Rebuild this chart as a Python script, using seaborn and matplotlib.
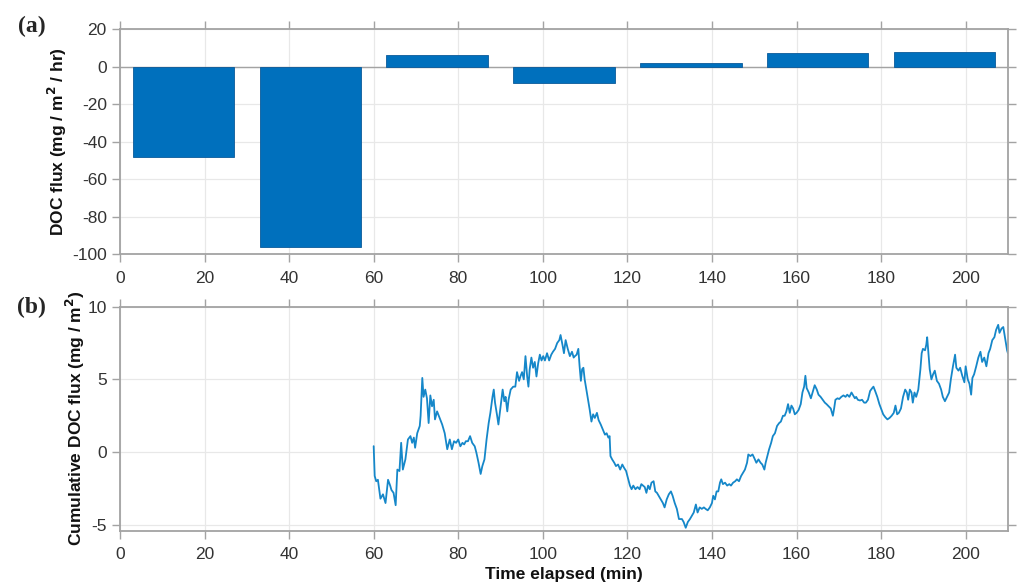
import matplotlib
matplotlib.use("Agg")
import matplotlib.pyplot as plt
import seaborn as sns

# (a) DOC flux per 30-min interval
bar_centers = [15, 45, 75, 105, 135, 165, 195]
doc_flux = [-48.0, -96.0, 6.2, -8.5, 2.1, 7.1, 7.7]

# (b) cumulative DOC flux from 60 min onward
time_min = [
    60.0, 60.24, 60.6, 61.0, 61.6, 62.2, 62.8, 63.4, 63.9, 64.2, 64.7, 65.2, 65.6, 66.1,
    66.5, 66.9, 67.5, 68.1, 68.7, 69.1, 69.5, 69.8, 70.3, 70.9, 71.1, 71.5, 71.8, 72.2,
    72.6, 73.0, 73.4, 73.8, 74.2, 74.5, 75.0, 75.6, 76.2, 76.8, 77.4, 78.0, 78.5, 79.0,
    79.5, 80.0, 80.5, 81.0, 81.4, 81.8, 82.3, 82.8, 83.3, 83.9,
    84.3, 84.8, 85.3, 85.7, 86.2, 86.7, 87.2, 87.6, 88.1, 88.4, 88.7, 89.2, 89.5, 90.0,
    90.5, 90.9, 91.2, 91.6, 91.9, 92.4, 93.0, 93.5, 93.9, 94.4, 94.7, 95.1, 95.5, 95.9,
    96.3, 96.6, 96.9, 97.3, 97.7, 98.1, 98.5, 98.9, 99.3, 99.7, 100.1, 100.5, 101.0,
    101.5, 102.0, 102.4, 102.9, 103.4, 103.9, 104.2, 104.7, 105.0, 105.4, 105.9, 106.4,
    106.9, 107.3,
    107.6, 108.0, 108.4, 108.7, 109.0, 109.3, 109.6, 109.9, 110.3, 110.7, 111.1, 111.5,
    111.9, 112.3, 112.8, 113.2, 113.7, 114.2, 114.7, 115.1, 115.5, 115.8, 116.0, 116.4,
    116.9, 117.3, 117.8, 118.3, 118.8, 119.2, 119.7, 120.2, 120.6, 121.0, 121.4, 121.9,
    122.4, 122.9, 123.3, 123.7, 124.1, 124.5, 124.9, 125.3, 125.7, 126.2, 126.6, 127.0,
    127.4, 127.9, 128.4, 128.8, 129.3, 129.8, 130.3, 130.7, 131.2, 131.7, 132.2,
    132.9, 133.3, 133.8, 134.3, 134.8, 135.2, 135.7, 136.2, 136.6, 137.1, 137.6, 138.1,
    138.5, 139.0, 139.5, 140.0, 140.3, 140.7, 141.1, 141.5, 141.9, 142.2, 142.6, 143.1,
    143.6, 144.1, 144.5, 145.0, 145.5, 145.9, 146.4, 146.9, 147.4, 147.8, 148.3, 148.6,
    149.1, 149.6, 150.0, 150.5, 151.0, 151.5, 151.9, 152.4, 152.7, 153.1, 153.5, 154.0,
    154.4, 154.9, 155.4, 155.9, 156.3, 156.8,
    157.2, 157.6, 158.0, 158.4, 158.8, 159.2, 159.6, 160.0, 160.5, 161.0, 161.4, 161.8,
    162.1, 162.4, 162.9, 163.4, 163.8, 164.3, 164.8, 165.2, 165.7, 166.2, 166.7, 167.1,
    167.6, 168.1, 168.6, 168.9, 169.2, 169.7, 170.1, 170.6, 171.1, 171.6, 172.0, 172.5,
    173.0, 173.4, 173.8, 174.1, 174.5, 175.0, 175.5, 176.0, 176.4, 176.9, 177.4, 177.9,
    178.2, 178.6, 179.1, 179.6, 180.1, 180.5, 181.0, 181.5,
    182.0, 182.5, 183.0, 183.4, 183.8, 184.2, 184.7, 185.2, 185.7, 186.1, 186.4, 186.8,
    187.2, 187.5, 187.9, 188.3, 188.8, 189.3, 189.6, 189.9, 190.4, 190.7, 190.9, 191.2,
    191.5, 191.9, 192.3, 192.7, 193.2, 193.7, 194.2, 194.6, 195.1, 195.6, 196.1, 196.5,
    197.0, 197.5, 197.8, 198.3, 198.7, 199.2, 199.7, 200.0, 200.5, 200.9, 201.3, 201.6,
    202.0, 202.5, 203.0, 203.5, 203.9, 204.4, 204.9, 205.4, 205.8, 206.3, 206.8, 207.2,
    207.7, 208.0, 208.5, 208.9, 209.4, 209.8, 210.0,
]
cum_flux = [
    0.41, -1.64, -2.0, -1.9, -3.2, -2.9, -3.5, -1.9, -2.3, -2.6, -2.8, -3.65, -1.2, -1.3,
    0.64, -1.2, -0.5, 0.87, 1.1, 0.64, 1.0, 0.3, 1.3, 1.8, 2.5, 5.1, 3.8, 4.3,
    3.7, 2.0, 3.9, 3.15, 3.6, 2.25, 2.8, 2.35, 1.9, 1.3, 0.2, 0.87, 0.2, 0.75,
    0.64, 0.87, 0.4, 0.64, 0.53, 0.75, 0.75, 1.1, 0.64, 0.4,
    -0.05, -0.73, -1.5, -0.96, -0.5, 0.87, 2.0, 2.7, 3.8, 4.3, 3.4, 2.5, 1.9, 3.1,
    4.3, 3.5, 3.8, 2.8, 3.6, 4.3, 4.5, 4.5, 5.5, 4.9, 5.2, 5.5, 5.0, 6.6,
    5.2, 4.5, 5.7, 6.5, 5.8, 6.2, 5.2, 6.1, 6.7, 6.3, 6.6, 6.3, 6.8,
    6.3, 6.7, 6.9, 7.1, 7.5, 7.7, 8.05, 7.3, 6.8, 7.7, 7.1, 6.6,
    6.9, 6.5,
    6.6, 6.7, 7.1, 5.9, 4.9, 5.7, 5.8, 5.0, 4.3, 3.6, 2.9, 2.1,
    2.6, 2.35, 2.7, 2.2, 1.9, 1.55, 1.2, 1.3, 1.0, 1.1, -0.27, -0.5,
    -0.73, -0.96, -0.85, -1.2, -0.85, -1.07, -1.3, -1.87, -2.3, -2.55, -2.3, -2.55,
    -2.4, -2.55, -2.2, -2.3, -2.4, -2.8, -2.3, -2.55, -2.1, -2.0, -2.7, -2.8,
    -3.0, -3.25, -3.5, -3.8, -3.25, -2.9, -2.7, -3.0, -3.5, -3.9, -4.6,
    -4.6, -4.8, -5.2, -4.8, -4.6, -4.4, -4.15, -3.6, -4.15, -3.8, -3.9, -3.8,
    -3.9, -4.0, -3.8, -3.5, -3.0, -3.25, -2.7, -2.7, -2.1, -1.87, -2.2, -2.1,
    -2.3, -2.2, -2.3, -2.1, -2.0, -1.87, -2.0, -1.64, -1.4, -1.2, -0.73, -0.16,
    -0.27, -0.16, -0.4, -0.73, -0.5, -0.73, -0.85, -1.2, -0.73, -0.27, 0.18, 0.64,
    1.1, 1.3, 1.8, 2.0, 2.1, 2.5,
    2.5, 2.8, 3.3, 2.7, 3.2, 3.0, 2.6, 2.7, 2.9, 3.3, 4.1, 4.5,
    5.25, 4.4, 4.1, 3.7, 4.1, 4.6, 4.3, 3.95, 3.8, 3.6, 3.4, 3.3,
    3.15, 3.0, 2.5, 3.0, 3.6, 3.7, 3.65, 3.8, 3.9, 3.8, 3.95, 3.8,
    4.1, 3.9, 3.7, 3.8, 3.6, 3.55, 3.6, 3.4, 3.4, 3.6, 4.2, 4.4,
    4.5, 4.2, 3.8, 3.3, 2.9, 2.6, 2.4, 2.25,
    2.35, 2.5, 2.7, 3.2, 2.6, 2.7, 3.0, 3.8, 4.3, 4.1, 3.6, 4.3,
    4.1, 3.4, 4.1, 3.8, 4.3, 5.7, 6.8, 7.1, 7.0, 7.4, 7.9, 6.8,
    5.7, 5.0, 5.35, 5.6, 4.9, 4.7, 4.3, 3.8, 3.5, 3.8, 4.1, 5.0,
    5.9, 6.7, 5.8, 5.6, 5.8, 5.25, 4.8, 5.9, 5.0, 4.7, 3.95, 5.1,
    5.35, 5.9, 6.5, 6.9, 6.2, 6.5, 5.9, 6.8, 7.1, 7.7, 7.9, 8.4,
    8.75, 8.2, 8.5, 8.6, 7.7, 7.0, 6.8,
]

x_ticks = [0, 20, 40, 60, 80, 100, 120, 140, 160, 180, 200]
flux_ticks = [-100, -80, -60, -40, -20, 0, 20]
cum_ticks = [-5, 0, 5, 10]

sns.set_style("ticks")
plt.rcParams["font.family"] = ["Liberation Sans", "DejaVu Sans"]
plt.rcParams["axes.unicode_minus"] = False

BAR_BLUE = "#0070bd"
LINE_BLUE = "#1587c9"
SPINE = "#a3a3a3"
GRID = "#e8e8e8"
TICK_TXT = "#333333"

fig = plt.figure(figsize=(10.21, 5.84), dpi=100)
ax1 = fig.add_axes([0.1175, 0.565, 0.8697, 0.385])
ax2 = fig.add_axes([0.1175, 0.0913, 0.8697, 0.3836])

ax1.axhline(0, color=SPINE, lw=1.0, zorder=1)
sns.barplot(x=bar_centers, y=doc_flux, native_scale=True, width=0.8,
            color=BAR_BLUE, saturation=1, edgecolor="#0b5a9a", linewidth=0.6,
            errorbar=None, ax=ax1, zorder=2)

sns.lineplot(x=time_min, y=cum_flux, estimator=None, sort=False,
             color=LINE_BLUE, lw=1.3, ax=ax2)

for ax in (ax1, ax2):
    ax.set_xlim(0, 210)
    ax.set_xticks(x_ticks)
    ax.set_axisbelow(True)
    ax.grid(True, color=GRID, lw=0.9)
    for side in ("left", "right", "top", "bottom"):
        ax.spines[side].set_visible(True)
        ax.spines[side].set_color(SPINE)
        ax.spines[side].set_linewidth(1.3)
    ax.tick_params(axis="both", which="major", direction="out", length=6,
                   width=1.0, color=SPINE, labelsize=12.5, labelcolor=TICK_TXT,
                   top=True, right=True, labeltop=False, labelright=False)
    ax.tick_params(axis="x", pad=6)

ax1.set_ylim(-100, 20)
ax1.set_yticks(flux_ticks)
ax1.set_xlabel("")
ax1.set_ylabel("DOC flux (mg / m$^{\\mathbf{2}}$ / hr)", fontsize=12.5,
               fontweight="bold", color="#111111", labelpad=2)

ax2.set_ylim(-5.4, 10)
ax2.set_yticks(cum_ticks)
ax2.set_xlabel("Time elapsed (min)", fontsize=12.5, fontweight="bold",
               color="#111111", labelpad=3)
ax2.set_ylabel("Cumulative DOC flux (mg / m$^{\\mathbf{2}}$)", fontsize=12.5,
               fontweight="bold", color="#111111", labelpad=0)

fig.text(0.031, 0.955, "(a)", fontsize=17, fontweight="bold",
         family=["Liberation Serif", "DejaVu Serif"], ha="center", va="center")
fig.text(0.031, 0.474, "(b)", fontsize=17, fontweight="bold",
         family=["Liberation Serif", "DejaVu Serif"], ha="center", va="center")

fig.savefig("out.png", dpi=100)
